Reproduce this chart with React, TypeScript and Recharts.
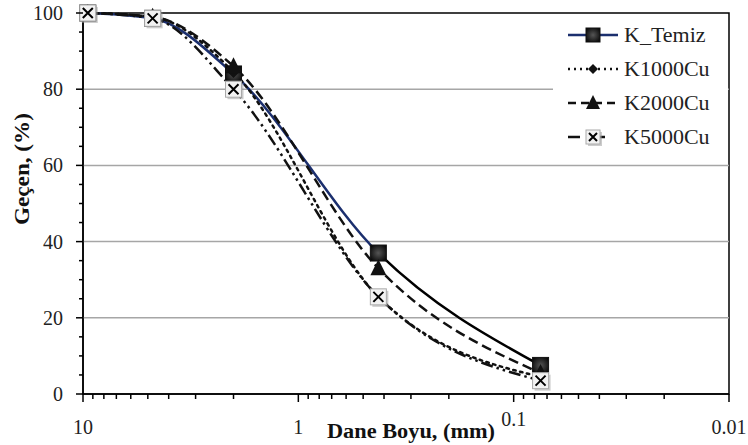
import { LineChart, Line, XAxis, YAxis, ReferenceLine, ReferenceArea } from "recharts";

const FONT = "Liberation Serif";

// sieve sizes (mm) and percent passing
const sizes = [9.5, 4.75, 2, 0.425, 0.075];
const kTemiz = [100, 98.6, 84, 37, 7.5];
const k1000Cu = [100, 99, 84.5, 25.5, 4.5];
const k2000Cu = [100, 99, 86, 33, 5.5];
const k5000Cu = [100, 98.6, 80, 25.5, 3.5];

const xMajor = [10, 1, 0.1, 0.01];
const xTicks = [
  10, 9, 8, 7, 6, 5, 4, 3, 2,
  1, 0.9, 0.8, 0.7, 0.6, 0.5, 0.4, 0.3, 0.2,
  0.1, 0.09, 0.08, 0.07, 0.06, 0.05, 0.04, 0.03, 0.02,
  0.01,
];
const yMajor = [0, 20, 40, 60, 80, 100];
const yTicks = [0, 5, 10, 15, 20, 25, 30, 35, 40, 45, 50, 55, 60, 65, 70, 75, 80, 85, 90, 95, 100];
const gridLines = [20, 40, 60, 80];

const data = sizes.map((s, i) => ({
  size: s,
  kTemiz: kTemiz[i],
  k1000Cu: k1000Cu[i],
  k2000Cu: k2000Cu[i],
  k5000Cu: k5000Cu[i],
}));

function XTick(props: any) {
  const { x, y, payload } = props;
  const v = payload.value;
  const major = xMajor.includes(v);
  return (
    <g>
      <line x1={x} x2={x} y1={y} y2={y + (major ? 8 : 5)} stroke="#000" strokeWidth={1.5} />
      {major && (
        <text x={x} y={y + (v === 0.1 ? 32 : 40)} textAnchor="middle" fontSize={20} fontFamily={FONT} fill="#222">
          {String(v)}
        </text>
      )}
    </g>
  );
}

function YTick(props: any) {
  const { x, y, payload } = props;
  const v = payload.value;
  const major = yMajor.includes(v);
  return (
    <g>
      <line x1={x - (major ? 7 : 4)} x2={x} y1={y} y2={y} stroke="#000" strokeWidth={1.5} />
      {major && (
        <text x={x - 20} y={y + 7} textAnchor="end" fontSize={20} fontFamily={FONT} fill="#222">
          {String(v)}
        </text>
      )}
    </g>
  );
}

function Square({ cx, cy, s = 8 }: any) {
  return <rect x={cx - s} y={cy - s} width={s * 2} height={s * 2} fill="url(#sqGrad)" stroke="#111" strokeWidth={1} />;
}
function Diamond({ cx, cy, s = 6 }: any) {
  return <path d={`M${cx},${cy - s}L${cx + s},${cy}L${cx},${cy + s}L${cx - s},${cy}Z`} fill="#111" />;
}
function Triangle({ cx, cy, s = 8 }: any) {
  return <path d={`M${cx},${cy - s - 1}L${cx + s},${cy + s - 1}L${cx - s},${cy + s - 1}Z`} fill="#111" />;
}
function XBox({ cx, cy, s = 8 }: any) {
  const k = s - 3;
  return (
    <g>
      <rect x={cx - s + 2} y={cy - s + 2} width={s * 2} height={s * 2} fill="#999" opacity={0.5} />
      <rect x={cx - s} y={cy - s} width={s * 2} height={s * 2} fill="#f2f2f2" stroke="#aaa" strokeWidth={1} />
      <path d={`M${cx - k},${cy - k}L${cx + k},${cy + k}M${cx + k},${cy - k}L${cx - k},${cy + k}`} stroke="#000" strokeWidth={2} />
    </g>
  );
}

const dotOf = (Comp: any) => (p: any) => <Comp key={`d${p.index}`} cx={p.cx} cy={p.cy} />;

const legendRows = [
  { name: "K_Temiz", color: "#1b2f6e", dash: undefined, Marker: Square, ms: 7 },
  { name: "K1000Cu", color: "#111", dash: "2 4", Marker: Diamond, ms: 5 },
  { name: "K2000Cu", color: "#111", dash: "8 5", Marker: Triangle, ms: 7 },
  { name: "K5000Cu", color: "#111", dash: "12 13", Marker: XBox, ms: 7 },
];

export default function App() {
  return (
    <div style={{ position: "absolute", left: 0, top: 0, width: 748, height: 445, background: "#fff" }}>
      <LineChart width={748} height={445} data={data} margin={{ top: 13, right: 19, bottom: 0, left: 0 }}>
        <defs>
          <radialGradient id="sqGrad" cx="50%" cy="50%" r="60%">
            <stop offset="0%" stopColor="#555" />
            <stop offset="100%" stopColor="#0a0a0a" />
          </radialGradient>
          <linearGradient id="temizStroke" x1="0" y1="0" x2="1" y2="0">
            <stop offset="0.64" stopColor="#1b2f6e" />
            <stop offset="0.64" stopColor="#000" />
          </linearGradient>
        </defs>
        <XAxis
          dataKey="size"
          type="number"
          scale="log"
          domain={[0.01, 10]}
          reversed
          ticks={xTicks}
          interval={0}
          tickSize={0}
          tickMargin={0}
          tick={<XTick />}
          height={51}
          axisLine={{ stroke: "#000", strokeWidth: 1.5 }}
          tickLine={false}
        />
        <YAxis
          type="number"
          domain={[0, 100]}
          ticks={yTicks}
          interval={0}
          tickSize={0}
          tickMargin={0}
          tick={<YTick />}
          width={83}
          axisLine={{ stroke: "#000", strokeWidth: 1.5 }}
          tickLine={false}
        />
        {gridLines.map((g) => (
          <ReferenceLine key={g} y={g} stroke="#a6a6a6" strokeWidth={1.5} />
        ))}
        <ReferenceArea x1={10} x2={0.01} y1={0} y2={100} fill="none" stroke="#000" strokeWidth={1.5} />
        <Line
          dataKey="kTemiz"
          type="monotone"
          stroke="url(#temizStroke)"
          strokeWidth={2.5}
          dot={dotOf(Square)}
          isAnimationActive={false}
        />
        <Line
          dataKey="k1000Cu"
          type="monotone"
          stroke="#111"
          strokeWidth={2.5}
          strokeDasharray="2.5 4.5"
          strokeLinecap="round"
          dot={dotOf(Diamond)}
          isAnimationActive={false}
        />
        <Line
          dataKey="k2000Cu"
          type="monotone"
          stroke="#111"
          strokeWidth={2.5}
          strokeDasharray="10 5"
          dot={dotOf(Triangle)}
          isAnimationActive={false}
        />
        <Line
          dataKey="k5000Cu"
          type="monotone"
          stroke="#111"
          strokeWidth={2.5}
          strokeDasharray="12 4 2.5 4 2.5 4"
          dot={dotOf(XBox)}
          isAnimationActive={false}
        />
      </LineChart>
      <svg width={748} height={445} style={{ position: "absolute", left: 0, top: 0, pointerEvents: "none" }}>
        <text
          x={411}
          y={438}
          textAnchor="middle"
          fontSize={20}
          fontWeight="bold"
          fontFamily={FONT}
          fill="#111"
          textLength={168}
          lengthAdjust="spacingAndGlyphs"
        >
          Dane Boyu, (mm)
        </text>
        <text
          transform="translate(29,169) rotate(-90)"
          textAnchor="middle"
          fontSize={20}
          fontWeight="bold"
          fontFamily={FONT}
          fill="#111"
          textLength={112}
          lengthAdjust="spacingAndGlyphs"
        >
          Geçen, (%)
        </text>
        <rect x={553} y={14} width={175} height={146} fill="#fff" />
        {legendRows.map((r, i) => {
          const cy = 35 + i * 34;
          const M = r.Marker;
          return (
            <g key={r.name}>
              <line x1={568} x2={618} y1={cy} y2={cy} stroke={r.color} strokeWidth={2.5} strokeDasharray={r.dash} />
              <M cx={593} cy={cy} s={r.ms} />
              <text x={624} y={cy + 7} fontSize={22} fontFamily={FONT} fill="#222">
                {r.name}
              </text>
            </g>
          );
        })}
      </svg>
    </div>
  );
}
